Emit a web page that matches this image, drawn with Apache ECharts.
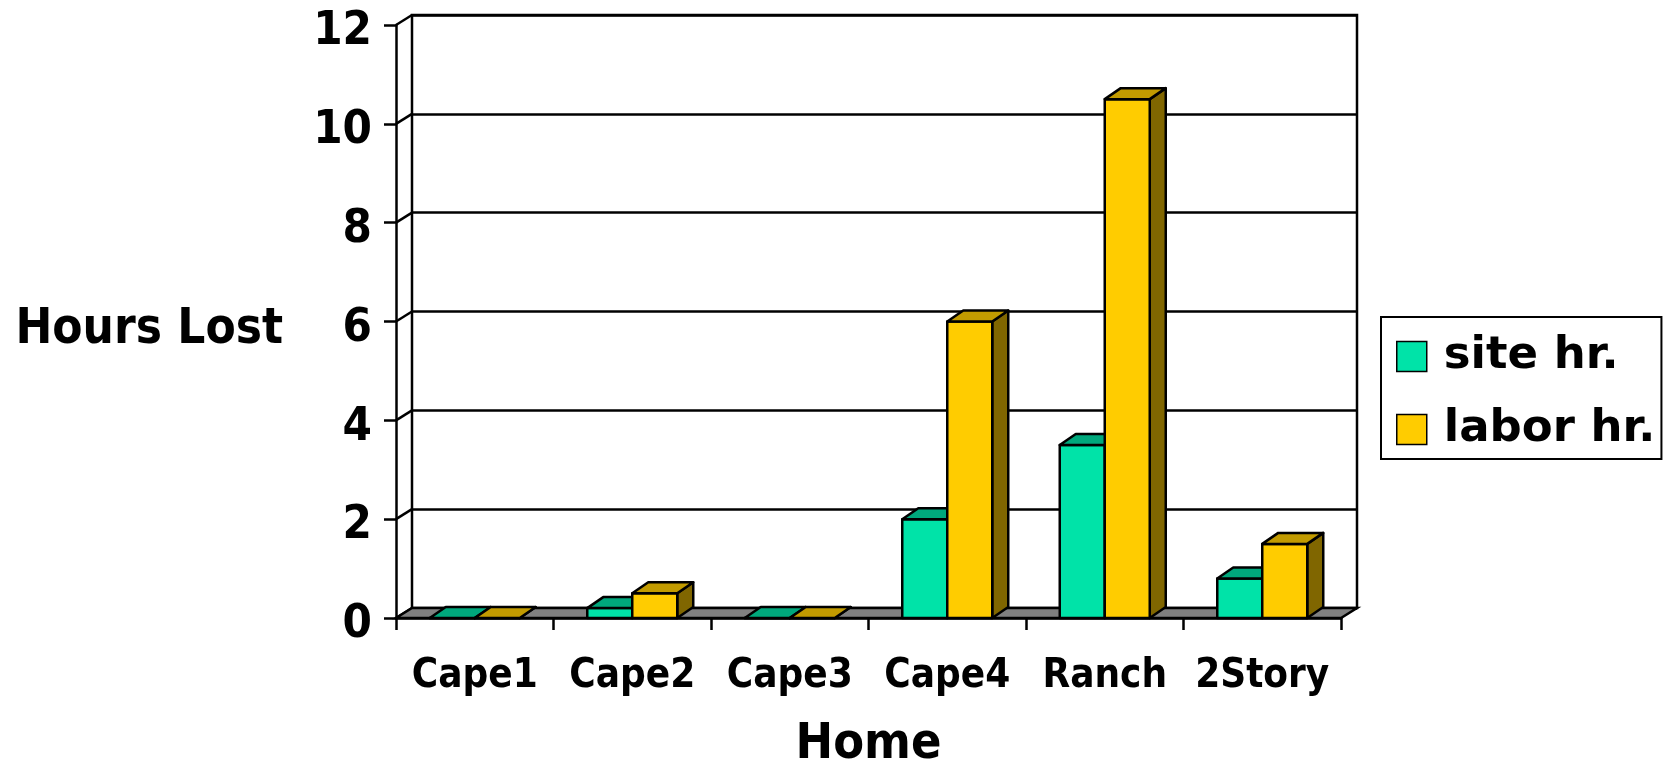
<!DOCTYPE html>
<html>
<head>
<meta charset="utf-8">
<script src="https://cdn.jsdelivr.net/npm/echarts@6/dist/echarts.min.js"></script>
<style>
  html, body { margin: 0; padding: 0; background: #fff; }
  #chart { width: 1667px; height: 762px; }
</style>
</head>
<body>
<div id="chart"></div>
<script>
// data
const homes = ['Cape1', 'Cape2', 'Cape3', 'Cape4', 'Ranch', '2Story']
const siteHr = [0, 0.2, 0, 2, 3.5, 0.8]
const laborHr = [0, 0.5, 0, 6, 10.5, 1.5]
const yTicks = [0, 2, 4, 6, 8, 10, 12]

const AXIS_FONT = "'DejaVu Sans Condensed', 'DejaVu Sans', sans-serif"
const LEGEND_FONT = "'DejaVu Sans', Verdana, sans-serif"

// 3D depth offsets
const DX = 16, DY = -10
const BAR_DY = -11
const LW = 2.5

const chart = echarts.init(document.getElementById('chart'))

// one 3D column (front, top, side) drawn through the axes
function columnRenderer (slot, front, top, side) {
  return function (params, api) {
    const ci = api.value(0)
    const v = api.value(1)
    const band = api.size([1, 0])[0]
    const bw = band / 3.5
    const base = api.coord([ci, 0])
    const peak = api.coord([ci, v])
    const x0 = base[0] - band / 2 + 0.75 * bw + slot * bw
    const x1 = x0 + bw
    const y0 = base[1]
    const y1 = peak[1]
    const stroke = { stroke: '#000', lineWidth: LW, lineJoin: 'round' }
    return {
      type: 'group',
      children: [
        {
          type: 'polygon',
          shape: { points: [[x1, y1], [x1 + DX, y1 + BAR_DY], [x1 + DX, y0 + BAR_DY], [x1, y0]] },
          style: Object.assign({ fill: side }, stroke)
        },
        {
          type: 'rect',
          shape: { x: x0, y: y1, width: bw, height: y0 - y1 },
          style: Object.assign({ fill: front }, stroke)
        },
        {
          type: 'polygon',
          shape: { points: [[x0, y1], [x1, y1], [x1 + DX, y1 + BAR_DY], [x0 + DX, y1 + BAR_DY]] },
          style: Object.assign({ fill: top }, stroke)
        }
      ]
    }
  }
}

const option = {
  animation: false,
  backgroundColor: '#fff',
  grid: [
    { left: 396, top: 25, width: 945, height: 593, outerBoundsMode: 'none', containLabel: false },
    { left: 412, top: 15, width: 945, height: 593, outerBoundsMode: 'none', containLabel: false, show: true, borderColor: '#000', borderWidth: LW, backgroundColor: '#fff', z: -1 }
  ],
  legend: {
    data: ['site hr.', 'labor hr.'],
    orient: 'vertical',
    left: 1381,
    top: 317,
    padding: [17, 6, 7, 15],
    itemGap: 28,
    itemWidth: 30,
    itemHeight: 30,
    borderColor: '#000',
    borderWidth: 2,
    icon: 'rect',
    itemStyle: { borderColor: '#000', borderWidth: 1.5 },
    textStyle: {
      fontFamily: LEGEND_FONT,
      fontWeight: 'bold',
      fontSize: 45,
      lineHeight: 44,
      color: '#000',
      padding: [0, 0, 0, 12]
    }
  },
  xAxis: [
    {
      type: 'category',
      gridIndex: 0,
      data: homes,
      name: 'Home',
      nameLocation: 'middle',
      nameGap: 102,
      nameTextStyle: { fontFamily: AXIS_FONT, fontWeight: 'bold', fontSize: 50, lineHeight: 50, color: '#000' },
      axisLine: { lineStyle: { color: '#000', width: LW } },
      axisTick: { show: true, interval: 0, length: 12, lineStyle: { color: '#000', width: LW } },
      axisLabel: { interval: 0, margin: 39, fontFamily: AXIS_FONT, fontWeight: 'bold', fontSize: 40, lineHeight: 40, color: '#000' },
      splitLine: { show: false }
    },
    {
      type: 'category',
      gridIndex: 1,
      data: homes,
      show: false
    }
  ],
  yAxis: [
    {
      type: 'value',
      gridIndex: 0,
      min: 0,
      max: 12,
      interval: 2,
      name: 'Hours Lost',
      nameLocation: 'middle',
      nameRotate: 0,
      nameGap: 113,
      nameTextStyle: { fontFamily: AXIS_FONT, fontWeight: 'bold', fontSize: 49, color: '#000', verticalAlign: 'top', lineHeight: 18 },
      axisLine: { show: true, lineStyle: { color: '#000', width: LW } },
      axisTick: { show: true, length: 12, lineStyle: { color: '#000', width: LW } },
      axisLabel: { margin: 24, fontFamily: AXIS_FONT, fontWeight: 'bold', fontSize: 47, color: '#000', verticalAlign: 'top', lineHeight: 14 },
      splitLine: { show: false }
    },
    {
      type: 'value',
      gridIndex: 1,
      min: 0,
      max: 12,
      interval: 2,
      axisLine: { show: false },
      axisTick: { show: false },
      axisLabel: { show: false },
      splitLine: { show: true, lineStyle: { color: '#000', width: LW } }
    }
  ],
  series: [
    {
      // side wall connectors from the front axis to the back wall
      type: 'custom',
      name: 'wall',
      xAxisIndex: 0,
      yAxisIndex: 0,
      silent: true,
      data: yTicks.map(t => [0, t]),
      renderItem: function (params, api) {
        const band = api.size([1, 0])[0]
        const p = api.coord([0, api.value(1)])
        const x = p[0] - band / 2
        return {
          type: 'line',
          shape: { x1: x, y1: p[1], x2: x + DX, y2: p[1] + DY },
          style: { stroke: '#000', lineWidth: LW }
        }
      }
    },
    {
      // grey floor
      type: 'custom',
      name: 'floor',
      xAxisIndex: 0,
      yAxisIndex: 0,
      silent: true,
      data: [[0, 0]],
      renderItem: function (params, api) {
        const band = api.size([1, 0])[0]
        const a = api.coord([0, 0])
        const b = api.coord([homes.length - 1, 0])
        const xl = a[0] - band / 2
        const xr = b[0] + band / 2
        const y = a[1]
        return {
          type: 'polygon',
          shape: { points: [[xl, y], [xr, y], [xr + DX, y + DY], [xl + DX, y + DY]] },
          style: { fill: '#808080', stroke: '#000', lineWidth: LW }
        }
      }
    },
    {
      type: 'custom',
      name: 'site hr.',
      xAxisIndex: 0,
      yAxisIndex: 0,
      itemStyle: { color: '#00E3A8' },
      data: siteHr.map((v, i) => [i, v]),
      renderItem: columnRenderer(0, '#00E3A8', '#00A87C', '#007555')
    },
    {
      type: 'custom',
      name: 'labor hr.',
      xAxisIndex: 0,
      yAxisIndex: 0,
      itemStyle: { color: '#FFCC00' },
      data: laborHr.map((v, i) => [i, v]),
      renderItem: columnRenderer(1, '#FFCC00', '#C29B00', '#806600')
    }
  ]
}

chart.setOption(option)
window.addEventListener('resize', () => chart.resize())
</script>
</body>
</html>
